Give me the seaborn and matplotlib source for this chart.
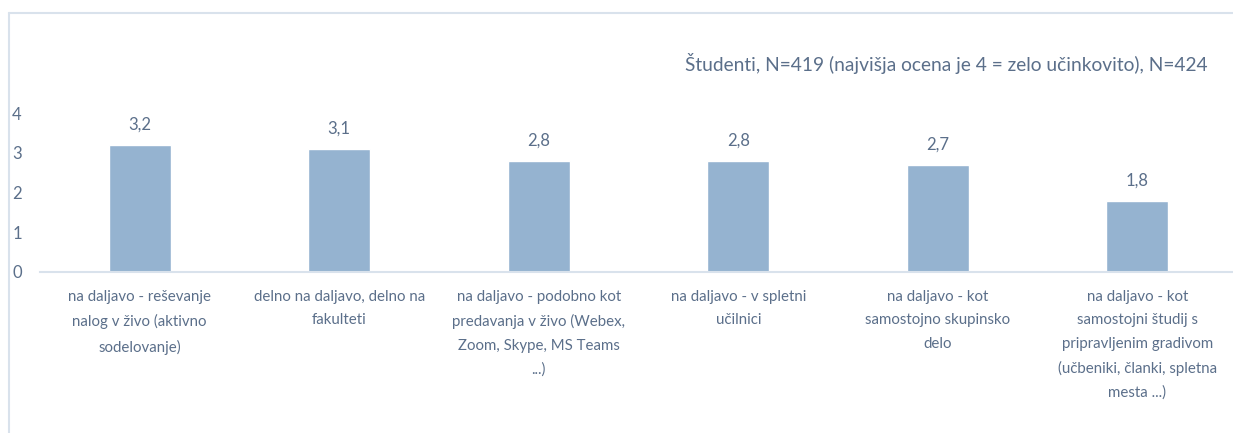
import matplotlib
matplotlib.use("Agg")
import matplotlib.pyplot as plt
import seaborn as sns
import pandas as pd

# data
categories = [
    "na daljavo - reševanje\nnalog v živo (aktivno\nsodelovanje)",
    "delno na daljavo, delno na\nfakulteti",
    "na daljavo - podobno kot\npredavanja v živo (Webex,\nZoom, Skype, MS Teams\n...)",
    "na daljavo - v spletni\nučilnici",
    "na daljavo - kot\nsamostojno skupinsko\ndelo",
    "na daljavo - kot\nsamostojni študij s\npripravljenim gradivom\n(učbeniki, članki, spletna\nmesta ...)",
]
values = [3.2, 3.1, 2.8, 2.8, 2.7, 1.8]
value_labels = ["3,2", "3,1", "2,8", "2,8", "2,7", "1,8"]
yticks = [0, 1, 2, 3, 4]
note = "Študenti, N=419 (najvišja ocena je 4 = zelo učinkovito), N=424"

df = pd.DataFrame({"cat": categories, "val": values})

sns.set_style("white")
plt.rcParams["font.family"] = ["Lato", "DejaVu Sans"]

text_col = "#5B6F8A"
bar_col = "#95B3D0"
line_col = "#D9E2EC"

W, H = 1233, 433
fig = plt.figure(figsize=(W / 100, H / 100), dpi=100)

# chart frame (only left and top edges are visible in the crop)
fig.add_artist(plt.Line2D([8.5 / W, 8.5 / W], [0, (H - 12.5) / H],
                          transform=fig.transFigure, color=line_col, lw=1.5))
fig.add_artist(plt.Line2D([8.5 / W, 1], [(H - 12.5) / H, (H - 12.5) / H],
                          transform=fig.transFigure, color=line_col, lw=1.5))

ax = fig.add_axes([40 / W, (H - 272) / H, 1197 / W, 158.8 / H])
sns.barplot(data=df, x="cat", y="val", color=bar_col, width=0.31,
            saturation=1, ax=ax)

ax.set_ylim(0, 4)
ax.set_yticks(yticks)
ax.set_xlim(-0.5, 5.5)
ax.set_xlabel("")
ax.set_ylabel("")
ax.tick_params(axis="y", length=0, pad=20, labelsize=12, labelcolor=text_col)
ax.tick_params(axis="x", length=0, pad=13, labelsize=10.8, labelcolor=text_col)
for lab in ax.get_yticklabels():
    lab.set_horizontalalignment("left")
ax.set_xticks(range(len(categories)))
ax.set_xticklabels(categories, linespacing=1.85)

for s in ["top", "right", "left"]:
    ax.spines[s].set_visible(False)
ax.spines["bottom"].set_color(line_col)
ax.spines["bottom"].set_linewidth(1.5)

for i, (v, t) in enumerate(zip(values, value_labels)):
    ax.text(i, v + 0.3, t, ha="center", va="bottom", fontsize=12,
            color=text_col, clip_on=False)

fig.text(1208 / W, (H - 64) / H, note, ha="right", va="center",
         fontsize=13.8, color=text_col)

fig.savefig("out.png", dpi=100)
